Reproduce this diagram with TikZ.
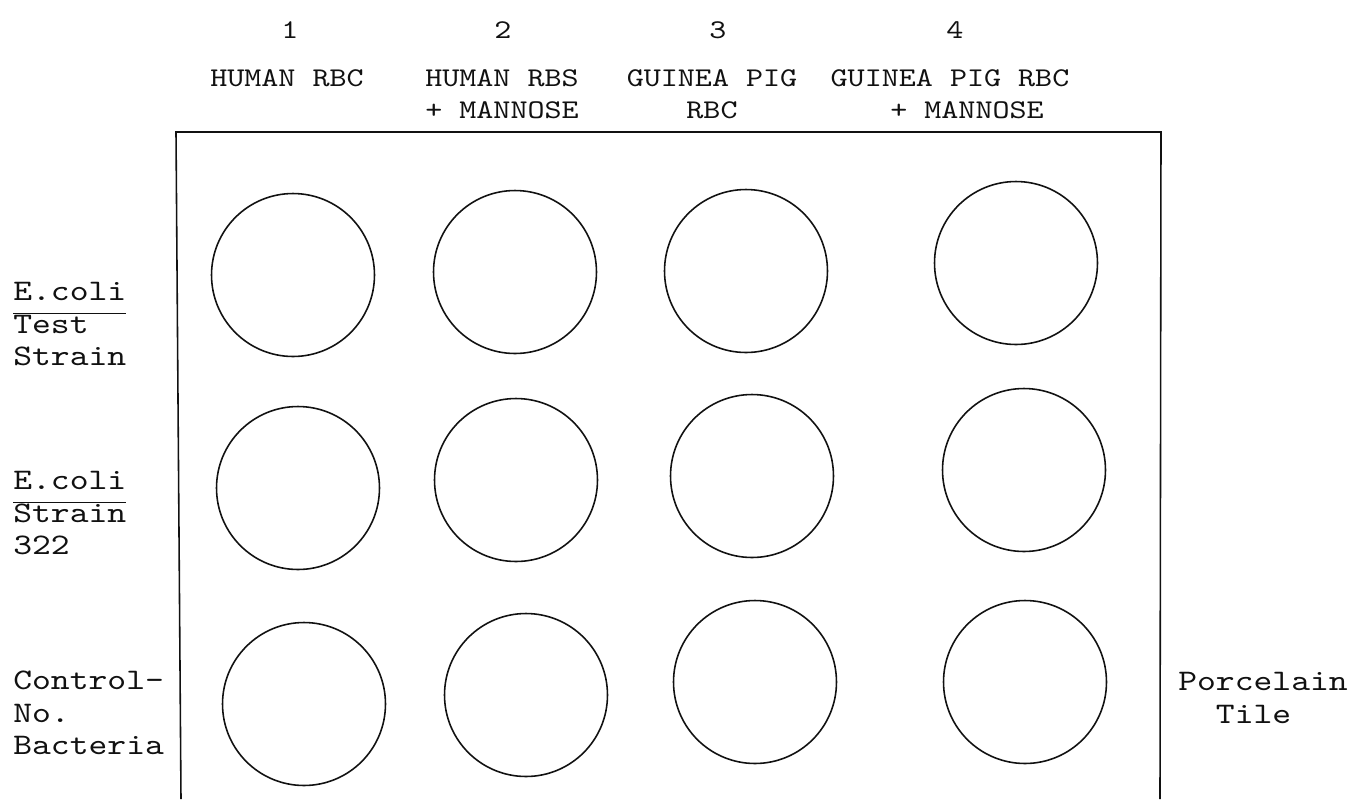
\documentclass[tikz,border=0pt]{standalone}
\usepackage{fontspec}
\newfontfamily\typewriter{lmmono10-regular.otf}[FakeStretch=1.2]
\usetikzlibrary{positioning}
\definecolor{ink}{HTML}{111111}

\begin{document}
\begin{tikzpicture}[
  x=0.02cm, y=-0.02cm,
  font=\typewriter,
  text=ink,
  well/.style={
    draw=ink,
    line width=0.9pt,
    circle,
    inner sep=0pt,
    minimum size=3.26cm
  },
  tile/.style={
    draw=ink,
    line width=0.9pt
  },
  col head/.style={
    align=center,
    inner sep=0pt,
    font=\typewriter\fontsize{15.4}{18.2}\selectfont
  },
  row label/.style={
    align=left,
    anchor=west,
    inner sep=0pt,
    font=\typewriter\fontsize{17}{18.6}\selectfont
  }
]
\useasboundingbox (0,0) rectangle (1357,799);

% Column numbers and reagents
\node[col head] (num1) at (290,30) {1};
\node[col head] (num2) at (503,30) {2};
\node[col head] (num3) at (718,30) {3};
\node[col head] (num4) at (955,30) {4};

\node[col head] (head1) at (287,78) {HUMAN RBC};
\node[col head] (head2) at (502,94) {HUMAN RBS\\+ MANNOSE};
\node[col head] (head3) at (712,94) {GUINEA PIG\\RBC};
\node[col head] (head4) at (950,94) {GUINEA PIG RBC\\\phantom{GU}+ MANNOSE};

% Porcelain tile (open at the bottom)
\coordinate (tileSW) at (181,799);
\coordinate (tileNW) at (176,132);
\coordinate (tileNE) at (1161,132);
\coordinate (tileSE) at (1160,799);
\draw[tile] (tileSW) -- (tileNW) -- (tileNE) -- (tileSE);

% Wells, row by row
\node[well] (well11) at (293,275) {};
\node[well] (well12) at (515,272) {};
\node[well] (well13) at (746,271) {};
\node[well] (well14) at (1016,263) {};

\node[well] (well21) at (298,488) {};
\node[well] (well22) at (516,480) {};
\node[well] (well23) at (752,476) {};
\node[well] (well24) at (1024,470) {};

\node[well] (well31) at (304,704) {};
\node[well] (well32) at (526,695) {};
\node[well] (well33) at (755,682) {};
\node[well] (well34) at (1025,682) {};

% Row labels
\node[row label] (rowlabel1) at (13,322) {\underline{E.coli\strut}\\Test\\Strain};
\node[row label] (rowlabel2) at (13,511) {\underline{E.coli\strut}\\Strain\\322};
\node[row label] (rowlabel3) at (13,713) {Control-\\No.\\Bacteria};

\node[row label] (tilelabel) at (1178,698) {Porcelain\\\phantom{Po}Tile};

\end{tikzpicture}
\end{document}
